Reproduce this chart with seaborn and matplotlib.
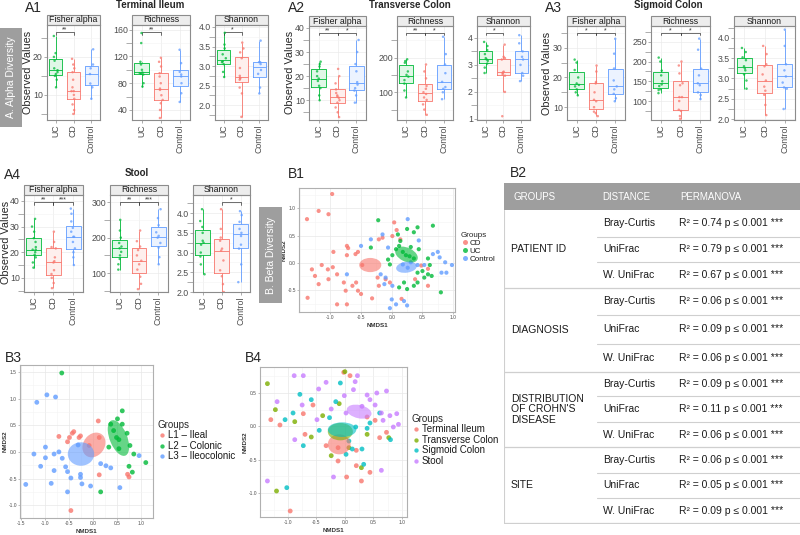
import numpy as np
import pandas as pd
import matplotlib
matplotlib.use("Agg")
import matplotlib.pyplot as plt
import seaborn as sns
from matplotlib.patches import Ellipse, Rectangle
from matplotlib.colors import to_rgb
from matplotlib.ticker import AutoMinorLocator
import matplotlib.transforms as mtrans

sns.set_theme(style="white")
plt.rcParams['font.family'] = ['Liberation Sans', 'DejaVu Sans']
np.random.seed(3)

W, H = 800, 535

# ---------------- alpha diversity data ----------------
groups = ["UC", "CD", "Control"]
group_colors = {"UC": "#00BA38", "CD": "#F8766D", "Control": "#619CFF"}

ti_fisher_uc = [12, 14, 15, 15.5, 16, 16.5, 17, 19, 20, 21, 25.5]
ti_fisher_cd = [5, 6, 7.5, 9, 10, 11, 11, 12, 14, 16, 17, 18, 19.5]
ti_fisher_ctrl = [9, 12, 13, 15.5, 17, 18, 22]
ti_rich_uc = [75, 80, 93, 94, 95, 96, 100, 108, 112, 140, 155]
ti_rich_cd = [28, 40, 50, 55, 62, 70, 72, 80, 90, 95, 105, 112, 118]
ti_rich_ctrl = [52, 65, 80, 90, 93, 97, 110, 130]
ti_shan_uc = [2.72, 2.85, 3.05, 3.1, 3.12, 3.2, 3.3, 3.45, 3.55, 3.85]
ti_shan_cd = [1.7, 2.3, 2.45, 2.65, 2.68, 2.7, 2.75, 2.95, 3.2, 3.35, 3.45, 3.6]
ti_shan_ctrl = [2.3, 2.45, 2.8, 2.9, 3.05, 3.1, 3.1, 3.65]

tc_fisher_uc = [10, 12, 15, 16, 18, 19, 20, 22, 24, 25, 26]
tc_fisher_cd = [3, 5, 7, 9, 10, 11, 11.5, 12, 13, 14.5, 17, 20, 23]
tc_fisher_ctrl = [9, 12, 14, 15, 16.5, 17.5, 22, 25, 30, 35]
tc_rich_uc = [85, 105, 125, 135, 145, 150, 160, 185, 190, 195]
tc_rich_cd = [35, 50, 65, 78, 85, 95, 100, 110, 118, 140, 160, 180]
tc_rich_ctrl = [80, 100, 110, 115, 130, 155, 180, 210, 260]
tc_shan_uc = [2.7, 2.9, 3.05, 3.15, 3.2, 3.25, 3.4, 3.55, 3.7, 3.85]
tc_shan_cd = [1.1, 2.0, 2.6, 2.65, 2.7, 2.72, 2.75, 3.2, 3.25, 3.3, 3.75]
tc_shan_ctrl = [2.4, 2.6, 2.7, 3.0, 3.2, 3.3, 3.5, 3.8, 4.1]

sc_fisher_uc = [14, 15, 16, 17, 17.5, 18, 20, 22.5, 25, 26]
sc_fisher_cd = [7, 8, 8.5, 10, 12, 12.5, 15, 18, 18.5, 22, 24]
sc_fisher_ctrl = [12, 13, 14.5, 16, 17, 19, 23, 28, 33]
sc_rich_uc = [120, 128, 130, 138, 142, 150, 165, 177, 200, 210]
sc_rich_cd = [55, 62, 75, 78, 100, 110, 110, 140, 145, 170, 190, 200]
sc_rich_ctrl = [105, 115, 122, 140, 145, 165, 182, 230, 258]
sc_shan_uc = [2.75, 2.95, 3.1, 3.2, 3.25, 3.3, 3.45, 3.52, 3.65, 3.75]
sc_shan_cd = [2.1, 2.35, 2.6, 2.7, 2.8, 2.95, 3.1, 3.3, 3.35, 3.6, 3.8]
sc_shan_ctrl = [2.25, 2.75, 2.78, 2.9, 3.05, 3.2, 3.35, 3.8, 4.2]

st_fisher_uc = [14, 16, 18, 19, 20, 21, 21, 22, 24, 25.5, 28, 30, 33]
st_fisher_cd = [6, 8, 10, 11.5, 13, 16, 16.5, 18, 21.5, 22, 24, 28]
st_fisher_ctrl = [15, 18, 20, 21.5, 24, 26, 26, 28, 29.5, 32, 35, 37]
st_rich_uc = [110, 125, 140, 150, 160, 170, 175, 185, 200, 220, 250]
st_rich_cd = [55, 70, 90, 110, 125, 135, 150, 165, 175, 190, 220]
st_rich_ctrl = [125, 145, 172, 185, 200, 205, 215, 235, 255, 280]
st_shan_uc = [2.45, 2.7, 2.9, 3.0, 3.2, 3.25, 3.3, 3.5, 3.65, 3.8, 4.1]
st_shan_cd = [2.0, 2.2, 2.4, 2.55, 2.8, 3.05, 3.1, 3.3, 3.38, 3.6, 4.1]
st_shan_ctrl = [2.25, 2.7, 3.1, 3.2, 3.42, 3.5, 3.6, 3.78, 3.95, 4.05]

metrics = ["Fisher alpha", "Richness", "Shannon"]

# significance brackets per panel
ti_sig = [[("UC", "CD", "**")], [("UC", "CD", "**")], [("UC", "CD", "*")]]
tc_sig = [[("UC", "CD", "**"), ("CD", "Control", "*")],
          [("UC", "CD", "**"), ("CD", "Control", "*")],
          [("UC", "CD", "*")]]
sc_sig = [[("UC", "CD", "*"), ("CD", "Control", "*")],
          [("UC", "CD", "*"), ("CD", "Control", "*")],
          []]
st_sig = [[("UC", "CD", "**"), ("CD", "Control", "***")],
          [("UC", "CD", "**"), ("CD", "Control", "***")],
          [("CD", "Control", "*")]]

ti_ticks = [[10, 20], [40, 80, 120, 160], [2.0, 2.5, 3.0, 3.5, 4.0]]
tc_ticks = [[10, 20, 30, 40], [100, 200], [1, 2, 3, 4]]
sc_ticks = [[10, 20, 30], [100, 150, 200, 250], [2.0, 2.5, 3.0, 3.5, 4.0]]
st_ticks = [[10, 20, 30, 40], [100, 200, 300], [2.0, 2.5, 3.0, 3.5, 4.0]]

ti_lims = [(3.4, 28.4), (25, 167), (1.62, 4.05)]
tc_lims = [(1.8, 40.8), (20, 291), (0.96, 4.44)]
sc_lims = [(5.7, 37.3), (52, 290), (1.98, 4.29)]
st_lims = [(4.5, 42.3), (47, 320), (2.0, 4.46)]

# ---------------- beta diversity data ----------------
b1_cd_x = [-0.97, -1.19, -1.03, -1.38, -0.95, -0.73, -0.71, -0.59, -0.73, -0.55, -1.30, -1.14,
           -1.25, -1.19, -1.04, -0.96, -1.03, -0.89, -0.78, -0.75, -0.89, -0.73, -1.37, -0.58,
           -0.55, -0.50, -0.32, -0.64, -0.23, -0.21, -0.21, -0.15, 0.01, 0.04, 0.08, 0.14,
           -0.10, -0.03, 0.16, 0.48, 0.59, 0.59, -0.48, 0.38]
b1_cd_y = [1.26, 0.95, 0.89, 0.80, 0.20, 0.31, 0.27, 0.16, 0.14, 0.20, -0.12, -0.04,
           -0.24, -0.39, -0.12, -0.08, -0.30, -0.21, -0.36, -0.51, -0.76, -0.76, -0.64, -0.36,
           -0.51, -0.57, -0.65, -0.42, -0.27, -0.42, 0.43, 0.46, 0.49, 0.74, 0.60, 0.43,
           -0.30, -0.36, -0.66, -0.05, -0.11, -0.42, -0.04, -0.30]
b1_uc_x = [-0.22, 0.67, 0.25, 0.36, 0.42, 0.12, 0.07, 0.18, 0.23, 0.31, 0.29, 0.36,
           0.44, -0.34, -0.06, -0.03, 0.42, 0.50, 0.59, 0.65, 0.53, 0.42, 0.12, 0.25,
           0.80, 0.36, 0.20, 0.01, 0.14, 0.59, 0.62, 0.10]
b1_uc_y = [0.78, 0.68, 0.62, 0.56, 0.65, 0.31, 0.25, 0.20, 0.14, 0.29, 0.12, 0.08,
           0.25, 0.28, 0.06, -0.03, -0.18, -0.15, -0.21, -0.24, -0.27, -0.36, -0.45, -0.48,
           -0.54, -0.42, -0.36, 0.14, 0.40, 0.08, -0.04, 0.52]
b1_ctrl_x = [0.26, -0.15, -0.34, -0.50, -0.06, 0.67, 0.75, 0.78, 0.87, 0.98, 0.81, 0.89,
             0.53, -0.73, -0.10, -0.12, 0.00, 0.07, -0.03, 0.20, 0.25, 0.01, -0.18, 0.31,
             0.42, 0.44, 0.18, 0.26]
b1_ctrl_y = [0.80, 0.52, 0.43, 0.31, 0.28, 0.16, 0.20, 0.10, 0.01, -0.04, -0.18, -0.18,
             -0.04, -0.21, -0.27, -0.39, -0.67, -0.76, -0.83, -0.70, -0.78, -0.42, -0.21, 0.01,
             -0.04, 0.41, -0.03, -0.09]
b1_groups = ["CD", "UC", "Control"]
b1_ell_x = [-0.35, 0.24, 0.24]
b1_ell_y = [-0.04, 0.15, -0.08]
b1_ell_w = [0.36, 0.40, 0.34]
b1_ell_h = [0.26, 0.25, 0.20]
b1_ell_angle = [0, -30, 10]

b3_l1_x = [0.11, -0.43, -0.26, -0.71, -0.53, -0.49, -0.29, -0.08, 0.13, 0.72, 0.75, -0.46, -0.40, 0.13]
b3_l1_y = [0.58, 0.35, 0.30, 0.29, 0.19, 0.27, 0.27, 0.12, -0.43, -0.42, -0.47, -1.10, 0.38, 0.27]
b3_l2_x = [-0.65, 0.61, 0.51, 0.37, 0.61, 0.71, 0.49, 0.33, 0.54, 0.77, 0.85, 1.10, 0.75, 0.82,
           0.16, 0.43, 0.54]
b3_l2_y = [1.48, 0.77, 0.62, 0.52, 0.52, 0.35, 0.27, 0.09, 0.06, 0.12, -0.04, -0.20, -0.27, -0.38,
           -0.75, 0.40, 0.23]
b3_l3_x = [-1.17, -0.96, -0.78, -0.99, -1.23, -1.09, -1.40, -0.87, -0.81, -0.99, -0.81, -0.71,
           -0.64, -0.57, -0.53, -0.46, -0.53, -0.31, -0.26, -0.23, -0.05, 0.16, 0.27, 0.37,
           0.56, 0.96, -0.26]
b3_l3_y = [0.93, 1.07, 1.03, 0.09, -0.04, -0.27, -0.61, -0.59, -0.35, -0.11, -0.04, 0.00,
           -0.12, -0.28, -0.37, -0.49, -0.75, 0.13, -0.48, -0.60, -0.64, -0.22, -0.26, -0.30,
           -0.67, -0.07, -0.42]
b3_groups = ["L1 \u2013 Ileal", "L2 \u2013 Colonic", "L3 \u2013 Ileocolonic"]
b3_ell_x = [0.02, 0.53, -0.25]
b3_ell_y = [0.13, 0.26, -0.04]
b3_ell_w = [0.52, 0.36, 0.55]
b3_ell_h = [0.42, 0.72, 0.44]
b3_ell_angle = [40, 25, 0]

b4_ti_x = [-0.02, 0.09, -1.30, -1.14, -0.73, -0.70, -0.12, -0.33, 0.20, 0.20, -0.12, 0.03,
           0.29, 0.44, -0.96, 0.53, 0.61, 0.73, 0.39, -0.56]
b4_ti_y = [0.81, 0.76, 0.10, 0.02, 0.19, -0.12, -0.32, -0.29, -0.36, -0.59, -0.52, -0.76,
           -0.82, -0.69, -1.27, 0.09, -0.17, -0.09, 0.14, 0.32]
b4_tc_x = [-1.36, -1.22, -1.20, -0.59, -0.24, -0.10, 0.29, 0.00, 0.77, -0.39, 0.07, 0.39, -0.88]
b4_tc_y = [0.64, 0.25, -0.97, -0.16, -0.44, 0.34, -0.62, 0.82, -0.17, 0.16, -0.32, -0.12, 0.07]
b4_sc_x = [-1.05, -0.79, -0.59, -0.91, -0.08, -0.45, -0.73, -1.02, 0.07, 0.13, 0.30, 0.33,
           0.44, 0.61, 0.80, 0.02, 0.19, -0.27, 0.39, -0.16]
b4_sc_y = [0.10, 0.48, 0.40, 0.20, 0.65, -0.06, -0.29, -0.92, -0.22, -0.34, -0.34, -0.57,
           0.05, 0.20, -0.20, -0.42, -0.01, 0.13, -0.03, 0.37]
b4_st_x = [-0.89, -0.73, -0.33, 0.18, 0.22, -1.19, -0.75, -0.46, 0.15, 0.39, 0.56, 0.73,
           0.53, 0.64, 0.79, 0.91, 0.94, 0.85, 0.67, -0.24, 0.02, -0.20, 0.64, -1.36,
           -0.88, 0.44, 0.30, -0.01, -0.49]
b4_st_y = [0.76, 0.76, 0.66, 0.67, 0.76, 0.37, 0.32, 0.56, 0.55, 0.47, 0.50, 0.53,
           0.32, 0.20, 0.16, 0.19, 0.03, -0.01, 0.09, 0.26, 0.20, -0.76, -0.66, -0.82,
           -0.20, 0.40, 0.30, 0.46, 0.10]
b4_groups = ["Terminal Ileum", "Transverse Colon", "Sigmoid Colon", "Stool"]
b4_ell_x = [-0.10, -0.08, -0.05, 0.25]
b4_ell_y = [-0.27, -0.08, -0.05, 0.22]
b4_ell_w = [0.40, 0.44, 0.50, 0.44]
b4_ell_h = [0.30, 0.26, 0.22, 0.20]
b4_ell_angle = [0, 0, 0, -10]

# ---------------- PERMANOVA table ----------------
tab_groups = ["PATIENT ID", "DIAGNOSIS", "DISTRIBUTION\nOF CROHN'S\nDISEASE", "SITE"]
tab_distances = ["Bray-Curtis", "UniFrac", "W. UniFrac"]
tab_r2 = [0.74, 0.79, 0.67, 0.06, 0.09, 0.06, 0.09, 0.11, 0.06, 0.06, 0.05, 0.09]

# ---------------- helpers ----------------
fig = plt.figure(figsize=(8, 5.35), dpi=100)
TXT = '#4d4d4d'
BORDER = '#8c8c8c'


def px_rect(x0, y0, x1, y1):
    return [x0 / W, 1 - y1 / H, (x1 - x0) / W, (y1 - y0) / H]


def ftext(x, y, s, **kw):
    fig.text(x / W, 1 - y / H, s, **kw)


def gray_label(x0, y0, x1, y1, s):
    fig.patches.append(Rectangle((x0 / W, 1 - y1 / H), (x1 - x0) / W, (y1 - y0) / H,
                                 transform=fig.transFigure, fc='#9e9e9e', ec='none'))
    ftext((x0 + x1) / 2, (y0 + y1) / 2, s, rotation=90, color='white', fontsize=7.5,
          ha='center', va='center')


def box_panel(box, values, ylim, yticks, title, sig):
    x0, y0, x1, y1 = box
    ax = fig.add_axes(px_rect(x0, y0, x1, y1))
    df = pd.DataFrame({"group": [g for g in groups for _ in values[g]],
                       "value": [v for g in groups for v in values[g]]})
    light = {g: tuple(0.88 + 0.12 * c for c in to_rgb(col)) for g, col in group_colors.items()}
    sns.boxplot(data=df, x="group", y="value", hue="group", order=groups, hue_order=groups,
                palette=light, saturation=1, linewidth=0, showfliers=False, showcaps=False,
                width=0.75, legend=False, ax=ax)
    sns.boxplot(data=df, x="group", y="value", hue="group", order=groups, hue_order=groups,
                palette=group_colors, fill=False, linewidth=0.6, showfliers=False, showcaps=False,
                width=0.75, legend=False, ax=ax)
    sns.stripplot(data=df, x="group", y="value", hue="group", order=groups, hue_order=groups,
                  palette=group_colors, size=1.8, jitter=0.12, alpha=0.75, legend=False, ax=ax)
    ax.set_ylim(*ylim)
    ax.set_xlim(-0.5, 2.5)
    ax.set_yticks(yticks)
    ax.set_yticklabels([f"{t:g}" if isinstance(t, int) else f"{t:.1f}" for t in yticks])
    ax.yaxis.set_minor_locator(AutoMinorLocator(2))
    ax.grid(True, which='major', color='#ebebeb', lw=0.5)
    ax.grid(True, which='minor', axis='y', color='#f4f4f4', lw=0.4)
    ax.set_axisbelow(True)
    ax.set_xlabel("")
    ax.set_ylabel("")
    ax.tick_params(axis='x', labelrotation=90, labelsize=6.3, colors=TXT, length=2, pad=1)
    ax.tick_params(axis='y', labelsize=6.3, colors=TXT, length=2, pad=1)
    ax.tick_params(axis='both', which='both', bottom=True, left=True, color=BORDER, width=0.5)
    for sp in ax.spines.values():
        sp.set_color(BORDER)
        sp.set_linewidth(0.8)
    sh = 10 / (y1 - y0)
    ax.add_patch(Rectangle((0, 1), 1, sh, transform=ax.transAxes, clip_on=False,
                           fc='#ededed', ec=BORDER, lw=0.8))
    ax.text(0.5, 1 + sh / 2, title, transform=ax.transAxes, ha='center', va='center',
            fontsize=6.3, color='#1a1a1a')
    tr = mtrans.blended_transform_factory(ax.transData, ax.transAxes)
    for g1, g2, lab in sig:
        a, b = groups.index(g1), groups.index(g2)
        ax.plot([a, a, b, b], [0.9, 0.925, 0.925, 0.9], transform=tr, color='#333333',
                lw=0.5, clip_on=False)
        ax.text((a + b) / 2, 0.915, lab, transform=tr, ha='center', va='bottom',
                fontsize=5, color='#333333')
    return ax


def nmds_panel(box, xs, ys, order, palette, ell, xlim, ylim, xticks, yticks, leg_xy, fs,
               size, mscale):
    ax = fig.add_axes(px_rect(*box))
    df = pd.DataFrame({"NMDS1": [v for xl in xs for v in xl],
                       "NMDS2": [v for yl in ys for v in yl],
                       "Groups": [g for g, xl in zip(order, xs) for _ in xl]})
    sns.scatterplot(data=df, x="NMDS1", y="NMDS2", hue="Groups", hue_order=order,
                    palette=palette, s=size, alpha=0.8, linewidth=0, ax=ax)
    for g, cx, cy, w, h, an in zip(order, *ell):
        ax.add_patch(Ellipse((cx, cy), w, h, angle=an, fc=palette[g], ec='none', alpha=0.6))
    ax.set_xlim(*xlim)
    ax.set_ylim(*ylim)
    ax.set_xticks(xticks)
    ax.set_yticks(yticks)
    ax.set_xticklabels([f"{t:.1f}" for t in xticks])
    ax.set_yticklabels([f"{t:.1f}" for t in yticks])
    ax.xaxis.set_minor_locator(AutoMinorLocator(2))
    ax.yaxis.set_minor_locator(AutoMinorLocator(2))
    ax.grid(True, which='major', color='#e8e8e8', lw=0.5)
    ax.grid(True, which='minor', color='#f3f3f3', lw=0.4)
    ax.set_axisbelow(True)
    ax.tick_params(axis='both', labelsize=3.5, colors=TXT, length=1.5, pad=0.8,
                   bottom=True, left=True, color=BORDER, width=0.4)
    ax.set_xlabel("NMDS1", fontsize=4.5, fontweight='bold', color='#333333', labelpad=0.5)
    ax.set_ylabel("NMDS2", fontsize=4.5, fontweight='bold', color='#333333', labelpad=0.5)
    for sp in ax.spines.values():
        sp.set_color('#b0b0b0')
        sp.set_linewidth(0.8)
    handles, labels = ax.get_legend_handles_labels()
    ax.get_legend().remove()
    leg = ax.legend(handles, labels, title="Groups", loc='upper left',
                    bbox_to_anchor=(leg_xy[0] / W, 1 - leg_xy[1] / H),
                    bbox_transform=fig.transFigure, frameon=False, fontsize=fs,
                    title_fontsize=fs, alignment='left', handletextpad=0.1,
                    labelspacing=0.05, borderpad=0, borderaxespad=0, handlelength=1.0,
                    markerscale=mscale)
    for t in leg.get_texts():
        t.set_color('#1a1a1a')
    return ax


# ---------------- A panels ----------------
site_values = [
    [{"UC": ti_fisher_uc, "CD": ti_fisher_cd, "Control": ti_fisher_ctrl},
     {"UC": ti_rich_uc, "CD": ti_rich_cd, "Control": ti_rich_ctrl},
     {"UC": ti_shan_uc, "CD": ti_shan_cd, "Control": ti_shan_ctrl}],
    [{"UC": tc_fisher_uc, "CD": tc_fisher_cd, "Control": tc_fisher_ctrl},
     {"UC": tc_rich_uc, "CD": tc_rich_cd, "Control": tc_rich_ctrl},
     {"UC": tc_shan_uc, "CD": tc_shan_cd, "Control": tc_shan_ctrl}],
    [{"UC": sc_fisher_uc, "CD": sc_fisher_cd, "Control": sc_fisher_ctrl},
     {"UC": sc_rich_uc, "CD": sc_rich_cd, "Control": sc_rich_ctrl},
     {"UC": sc_shan_uc, "CD": sc_shan_cd, "Control": sc_shan_ctrl}],
    [{"UC": st_fisher_uc, "CD": st_fisher_cd, "Control": st_fisher_ctrl},
     {"UC": st_rich_uc, "CD": st_rich_cd, "Control": st_rich_ctrl},
     {"UC": st_shan_uc, "CD": st_shan_cd, "Control": st_shan_ctrl}],
]
site_sig = [ti_sig, tc_sig, sc_sig, st_sig]
site_ticks = [ti_ticks, tc_ticks, sc_ticks, st_ticks]
site_lims = [ti_lims, tc_lims, sc_lims, st_lims]
site_boxes = [
    [(47, 25, 100, 120), (132, 25, 190, 120), (215, 25, 268, 120)],
    [(309, 26, 366, 120), (397, 26, 453, 120), (477, 26, 530, 120)],
    [(567, 26, 625, 120), (651, 26, 710, 120), (734, 26, 795, 120)],
    [(24, 195, 83, 292), (110, 195, 168, 292), (193, 195, 250, 292)],
]

for s in range(4):
    for m in range(3):
        box_panel(site_boxes[s][m], site_values[s][m], site_lims[s][m], site_ticks[s][m],
                  metrics[m], site_sig[s][m])

ftext(33, 8, "A1", fontsize=10, ha='center', va='center')
ftext(150, 5, "Terminal Ileum", fontsize=7, fontweight='bold', ha='center', va='center')
ftext(297, 8, "A2", fontsize=10, ha='center', va='center')
ftext(410, 5, "Transverse Colon", fontsize=7, fontweight='bold', ha='center', va='center')
ftext(553, 8, "A3", fontsize=10, ha='center', va='center')
ftext(668, 5, "Sigmoid Colon", fontsize=7, fontweight='bold', ha='center', va='center')
ftext(12, 175, "A4", fontsize=10, ha='center', va='center')
ftext(137, 173, "Stool", fontsize=7, fontweight='bold', ha='center', va='center')

for x, y in [(28, 72), (290, 72), (547, 73), (6, 242)]:
    ftext(x, y, "Observed Values", rotation=90, fontsize=7.8, ha='center', va='center')

gray_label(0, 28, 22, 127, "A. Alpha Diversity")
gray_label(259, 207, 282, 303, "B. Beta Diversity")

# ---------------- B panels ----------------
pal3 = {"CD": "#F8766D", "UC": "#00BA38", "Control": "#619CFF"}
nmds_panel((299, 188, 455, 312), [b1_cd_x, b1_uc_x, b1_ctrl_x], [b1_cd_y, b1_uc_y, b1_ctrl_y],
           b1_groups, pal3, [b1_ell_x, b1_ell_y, b1_ell_w, b1_ell_h, b1_ell_angle],
           (-1.51, 1.03), (-0.9, 1.37), [-1.0, -0.5, 0.0, 0.5, 1.0], [-0.5, 0.0, 0.5, 1.0],
           (461, 232), 5.8, 9, 1.2)
ftext(296, 174, "B1", fontsize=10, ha='center', va='center')

pal_b3 = dict(zip(b3_groups, ["#F8766D", "#00BA38", "#619CFF"]))
nmds_panel((20, 365, 153, 518), [b3_l1_x, b3_l2_x, b3_l3_x], [b3_l1_y, b3_l2_y, b3_l3_y],
           b3_groups, pal_b3, [b3_ell_x, b3_ell_y, b3_ell_w, b3_ell_h, b3_ell_angle],
           (-1.52, 1.25), (-1.24, 1.63), [-1.5, -1.0, -0.5, 0.0, 0.5, 1.0],
           [-1.0, -0.5, 0.0, 0.5, 1.0, 1.5], (157, 420), 7, 12, 0.9)
ftext(13, 358, "B3", fontsize=10, ha='center', va='center')

pal_b4 = dict(zip(b4_groups, ["#F8766D", "#7CAE00", "#00BFC4", "#C77CFF"]))
nmds_panel((260, 367, 407, 517), [b4_ti_x, b4_tc_x, b4_sc_x, b4_st_x],
           [b4_ti_y, b4_tc_y, b4_sc_y, b4_st_y], b4_groups, pal_b4,
           [b4_ell_x, b4_ell_y, b4_ell_w, b4_ell_h, b4_ell_angle],
           (-1.49, 1.09), (-1.36, 0.89), [-1.0, -0.5, 0.0, 0.5, 1.0], [-1.0, -0.5, 0.0, 0.5],
           (411, 414), 7, 12, 0.9)
ftext(253, 358, "B4", fontsize=10, ha='center', va='center')

# ---------------- B2 table ----------------
ftext(518, 173, "B2", fontsize=10, ha='center', va='center')
tab = fig.add_axes(px_rect(504, 183, 800, 524))
tab.set_xlim(504, 800)
tab.set_ylim(524, 183)
tab.axis('off')
tab.add_patch(Rectangle((504, 183), 296, 27, fc='#9e9e9e', ec='none'))
for x, s in [(513, "GROUPS"), (602, "DISTANCE"), (680, "PERMANOVA")]:
    tab.text(x, 197, s, color='white', fontsize=7, ha='left', va='center')
row_edges = [210, 237, 262, 288, 315, 344, 372, 396, 422, 447, 473, 498, 523]
line_c = '#cfcfcf'
tab.plot([504.5, 504.5], [210, 523], color=line_c, lw=0.8)
for i in range(12):
    yc = (row_edges[i] + row_edges[i + 1]) / 2
    tab.text(603, yc, tab_distances[i % 3], fontsize=7.5, ha='left', va='center', color='#1a1a1a')
    r2 = f"R\u00b2 = {tab_r2[i]:.2f} p \u2264 0.001 ***"
    tab.text(679, yc, r2, fontsize=7.5, ha='left', va='center', color='#1a1a1a')
    ye = row_edges[i + 1]
    if (i + 1) % 3 == 0:
        tab.plot([504, 800], [ye, ye], color=line_c, lw=0.9)
    else:
        tab.plot([597, 800], [ye, ye], color=line_c, lw=0.8)
for k, g in enumerate(tab_groups):
    yc = (row_edges[3 * k] + row_edges[3 * k + 3]) / 2
    tab.text(511, yc, g, fontsize=7.5, ha='left', va='center', color='#1a1a1a', linespacing=1.05)

fig.savefig("out.png", dpi=100)
